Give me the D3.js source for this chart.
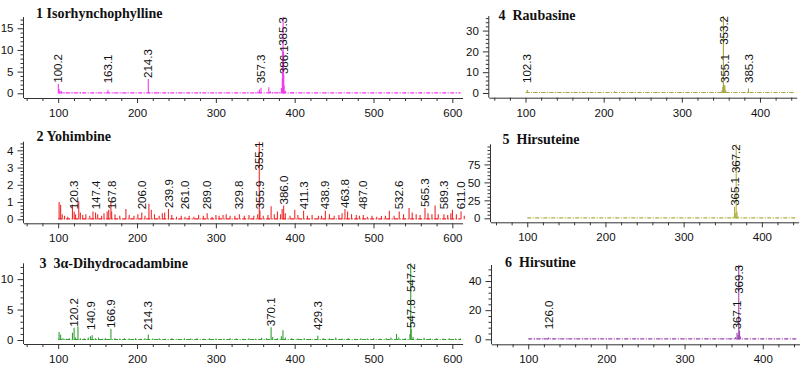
<!DOCTYPE html>
<html><head><meta charset="utf-8">
<script src="https://cdn.jsdelivr.net/npm/d3@7"></script>
<style>body{margin:0;background:#fff}svg{display:block}</style>
</head><body><svg id="c" width="800" height="369"></svg>
<script>
// ---------- DATA ----------
const titles = ["1 Isorhynchophylline", "2 Yohimbine", "3  3\u03b1-Dihydrocadambine", "4  Raubasine", "5  Hirsuteine", "6  Hirsutine"];
const colors = ["#f03cf0", "#ee2a2a", "#33a033", "#a6a43c", "#b2b043", "#a045b5"];

const leftXTicks = [100, 200, 300, 400, 500, 600];
const rightXTicks = [100, 200, 300, 400];

// Panel 1: Isorhynchophylline
const p1Mz = [100.2,101.1,102.2,104.1,106.1,110.1,117.1,120.1,128.1,132.1,144.1,150.1,160.1,163.1,170.1,180.1,187.1,196.1,205.1,214.3,216.2,222.1,227.2,235.1,240.1,250.1,258.2,270.1,280.2,290.2,300.2,312.2,325.2,340.2,350.2,353.2,355.2,357.3,367.2,369.2,372.2,380.2,383.2,384.3,384.8,385.3,385.8,386.1,386.6,388.2,395.2,398.2,410.2,425.2,440.2,455.2,470.3,485.3,500.3,520.3,540.3,560.3,575.3,590.3,605.3];
const p1Int = [2.2,1.0,0.6,0.5,0.3,0.3,0.2,0.2,0.3,0.2,0.2,0.2,0.2,0.7,0.2,0.15,0.2,0.2,0.15,3.3,0.3,0.2,0.3,0.15,0.2,0.15,0.2,0.15,0.3,0.15,0.2,0.15,0.2,0.2,0.2,0.4,0.9,1.3,1.4,0.5,0.3,0.3,1.2,3.5,9.8,17.6,9.5,4.2,1.8,0.6,0.3,0.3,0.2,0.15,0.2,0.15,0.2,0.15,0.2,0.15,0.2,0.3,0.15,0.2,0.15];
const p1Labels = ["100.2","163.1","214.3","357.3","385.3","386.1"];
const p1YTicks = [0, 5, 10, 15];

// Panel 2: Yohimbine
const p2Mz = [101.2,103.1,105.1,108.1,112.1,118.1,120.3,122.1,126.1,128.1,131.1,135.1,140.1,144.1,147.4,150.1,155.1,158.1,162.1,164.1,166.9,167.8,172.1,178.1,185.9,190.1,196.1,201.1,206.0,210.1,215.1,218.1,222.1,228.1,232.1,235.1,239.9,244.1,250.1,256.1,261.0,266.1,272.1,278.1,284.1,289.0,295.1,300.1,304.1,309.1,313.1,318.1,324.1,329.8,336.1,342.1,348.1,353.1,355.1,355.9,360.1,366.1,370.1,374.1,378.1,382.1,384.1,386.0,388.1,394.1,400.1,404.1,411.3,416.1,422.1,430.1,434.1,438.9,444.1,450.1,456.1,460.1,463.8,467.1,472.1,478.1,482.1,487.0,492.1,498.1,504.1,510.1,515.1,520.1,526.1,532.6,538.1,545.1,549.1,554.1,559.1,565.3,569.1,574.1,578.1,582.1,589.3,594.1,598.1,600.1,605.1,611.0,615.1];
const p2Int = [1.0,0.85,0.3,0.2,0.15,0.85,0.45,0.3,1.05,0.4,0.25,0.3,0.2,0.45,0.4,0.3,0.2,0.35,0.45,0.55,1.0,0.45,0.3,0.2,0.6,0.25,0.2,0.3,0.4,0.2,0.9,0.55,0.3,0.2,0.35,0.4,0.6,0.25,0.15,0.2,0.15,0.2,0.15,0.25,0.2,0.35,0.15,0.25,0.2,0.25,0.3,0.2,0.2,0.3,0.2,0.25,0.2,0.3,4.5,0.5,0.2,0.25,0.75,0.3,0.45,0.3,0.6,0.8,0.35,0.2,0.55,0.25,0.5,0.2,0.25,0.2,0.2,0.5,0.3,0.2,0.25,0.35,0.6,0.45,0.3,0.25,0.2,0.25,0.15,0.2,0.15,0.2,0.2,0.5,0.2,0.45,0.3,0.65,0.4,0.3,0.25,0.65,0.35,0.3,0.8,0.3,0.3,0.25,0.35,0.55,0.3,0.45,0.2];
const p2Labels = ["120.3","147.4","167.8","206.0","239.9","261.0","289.0","329.8","355.1","355.9","386.0","411.3","438.9","463.8","487.0","532.6","565.3","589.3","611.0"];
const p2YTicks = [0, 1, 2, 3, 4];

// Panel 3: 3a-Dihydrocadambine
const p3Mz = [101.1,103.1,106.1,110.1,114.1,118.1,120.2,122.1,125.1,128.1,133.1,138.1,140.9,143.1,147.1,151.1,156.1,160.1,166.9,172.1,178.1,184.1,190.1,198.1,205.1,210.1,214.3,220.1,228.1,236.1,244.1,252.1,260.1,268.1,276.1,284.1,292.1,300.1,310.1,318.1,326.1,334.1,342.1,350.1,358.1,364.1,370.1,372.1,378.1,383.1,385.1,388.1,396.1,404.1,412.1,420.1,429.3,436.1,444.1,452.1,460.1,468.1,476.1,484.1,492.1,500.1,508.1,516.1,522.1,529.2,532.1,540.1,546.2,547.2,547.8,550.1,556.1,564.1,572.1,580.1,588.1,596.1,604.1,610.1];
const p3Int = [1.3,0.9,0.3,0.2,0.3,1.2,2.0,0.4,2.2,0.3,0.3,0.4,0.6,0.8,0.3,0.4,0.2,0.3,1.8,0.3,0.2,0.3,0.25,0.3,0.2,0.3,0.9,0.25,0.3,0.2,0.3,0.2,0.3,0.25,0.3,0.2,0.3,0.25,0.2,0.3,0.25,0.2,0.3,0.2,0.35,0.3,2.1,0.5,0.3,0.6,1.6,0.4,0.3,0.25,0.3,0.2,0.7,0.3,0.25,0.4,0.25,0.3,0.2,0.3,0.25,0.3,0.2,0.3,0.4,1.0,0.4,0.3,1.0,12.6,1.8,0.5,0.3,0.35,0.25,0.3,0.25,0.3,0.25,0.3];
const p3Labels = ["120.2","140.9","166.9","214.3","370.1","429.3","547.2","547.8"];
const p3YTicks = [0, 5, 10];

// Panel 4: Raubasine
const p4Mz = [102.3,104.1,110.1,120.1,130.1,140.1,150.1,160.1,170.1,180.1,190.1,200.1,214.1,225.1,240.1,255.1,270.1,285.1,300.1,315.1,330.1,340.1,351.2,352.5,353.2,354.2,355.1,356.2,360.1,370.1,385.3,388.1,400.1,415.1,430.1,440.1];
const p4Int = [1.5,0.5,0.3,0.3,0.3,0.25,0.3,0.25,0.3,0.3,0.25,0.3,0.8,0.3,0.3,0.25,0.3,0.25,0.3,0.25,0.3,0.3,1.2,3.0,37,4.0,3.5,1.2,0.3,0.3,2.2,0.3,0.3,0.25,0.3,0.25];
const p4Labels = ["102.3","353.2","355.1","385.3"];
const p4YTicks = [0, 10, 20, 30];

// Panel 5: Hirsuteine
const p5Mz = [102.1,110.1,120.1,130.1,140.1,150.1,160.1,170.1,180.1,190.1,200.1,214.1,225.1,240.1,255.1,270.1,285.1,300.1,315.1,330.1,345.1,355.1,363.2,365.1,366.1,367.2,368.2,369.2,375.1,385.1,400.1,415.1,430.1,440.1];
const p5Int = [0.6,0.4,0.5,0.4,0.5,0.4,0.5,0.4,0.5,0.4,0.5,0.6,0.4,0.5,0.4,0.5,0.4,0.5,0.4,0.5,0.4,0.6,2,16,7,103,9,3,0.5,0.6,0.5,0.4,0.5,0.4];
const p5Labels = ["365.1","367.2"];
const p5YTicks = [0, 25, 50, 75];

// Panel 6: Hirsutine
const p6Mz = [102.1,108.1,115.1,120.1,126.0,132.1,140.1,150.1,160.1,170.1,180.1,190.1,200.1,214.1,225.1,240.1,255.1,270.1,285.1,300.1,315.1,330.1,345.1,355.1,365.1,367.1,368.3,369.3,370.3,371.3,380.1,390.1,400.1,415.1,430.1,440.1];
const p6Int = [0.6,0.5,0.6,0.7,1.2,0.5,0.6,0.5,0.6,0.5,0.6,0.5,0.6,0.7,0.5,0.6,0.5,0.6,0.5,0.6,0.5,0.6,0.5,0.6,1.5,4.5,3,51,6,2,0.6,0.5,0.6,0.5,0.6,0.5];
const p6Labels = ["126.0","367.1","369.3"];
const p6YTicks = [0, 20, 40];

// ---------- LAYOUT (pixels) ----------
const layouts = [
  {xMin:56, xMax:613, px0:23.5, px1:462.6, yTop:17,    yZero:93.3,  axisY:98,    tx:36,    ty:18},
  {xMin:56, xMax:613, px0:23.5, px1:462.6, yTop:141.7, yZero:219.3, axisY:223.3, tx:36.5,  ty:140.7},
  {xMin:56, xMax:613, px0:23.5, px1:462.6, yTop:263.3, yZero:340,   axisY:344,   tx:39.5,  ty:268},
  {xMin:53, xMax:447, px0:488.8, px1:796.7, yTop:16,   yZero:93,    axisY:97.7,  tx:498.5, ty:19.7},
  {xMin:53, xMax:447, px0:490.5, px1:798.6, yTop:144.3, yZero:218.3, axisY:222.3, tx:502.5, ty:143.7},
  {xMin:53, xMax:447, px0:491.5, px1:799.5, yTop:265,  yZero:339.3, axisY:344.3, tx:505,   ty:267.4}
];

const panels = [
  {mz:p1Mz, it:p1Int, labels:p1Labels, yTicks:p1YTicks, xTicks:leftXTicks},
  {mz:p2Mz, it:p2Int, labels:p2Labels, yTicks:p2YTicks, xTicks:leftXTicks},
  {mz:p3Mz, it:p3Int, labels:p3Labels, yTicks:p3YTicks, xTicks:leftXTicks},
  {mz:p4Mz, it:p4Int, labels:p4Labels, yTicks:p4YTicks, xTicks:rightXTicks},
  {mz:p5Mz, it:p5Int, labels:p5Labels, yTicks:p5YTicks, xTicks:rightXTicks},
  {mz:p6Mz, it:p6Int, labels:p6Labels, yTicks:p6YTicks, xTicks:rightXTicks}
];

const svg = d3.select("#c");
const NUM_FONT = "'Liberation Sans', Arial, sans-serif";
const AXIS_COL = "#333";

panels.forEach((p, i) => {
  const L = layouts[i];
  const color = colors[i];
  const n = Math.min(p.mz.length, p.it.length);
  const pts = d3.range(n).map(k => ({mz: p.mz[k], v: p.it[k]}));
  const yMax = d3.max(pts, d => d.v);
  const x = d3.scaleLinear().domain([L.xMin, L.xMax]).range([L.px0, L.px1]);
  const y = d3.scaleLinear().domain([0, yMax]).range([L.yZero, L.yTop]);
  const g = svg.append("g");

  // baseline (dashed, series colour)
  g.append("line")
    .attr("x1", x(100)).attr("x2", x(L.xMax) - 2)
    .attr("y1", y(0) - 0.5).attr("y2", y(0) - 0.5)
    .attr("stroke", color).attr("stroke-width", 1.2)
    .attr("stroke-dasharray", "4,1.5,1,1.5");

  // peaks
  g.selectAll("line.pk").data(pts).join("line").attr("class", "pk")
    .attr("x1", d => x(d.mz)).attr("x2", d => x(d.mz))
    .attr("y1", y(0)).attr("y2", d => y(d.v))
    .attr("stroke", color).attr("stroke-width", 1.1);

  // x axis
  const xMinor = d3.range(60, L.xMax, 20).filter(v => !p.xTicks.includes(v));
  const gxm = g.append("g").attr("transform", `translate(0,${L.axisY})`)
    .call(d3.axisBottom(x).tickValues(xMinor).tickSize(3).tickFormat("").tickSizeOuter(0));
  const gx = g.append("g").attr("transform", `translate(0,${L.axisY})`)
    .call(d3.axisBottom(x).tickValues(p.xTicks).tickSize(5).tickPadding(6).tickSizeOuter(0));
  gxm.select(".domain").remove();
  [gx, gxm].forEach(a => {
    a.selectAll("path,line").attr("stroke", AXIS_COL);
  });
  gx.selectAll("text").attr("font-family", NUM_FONT).attr("font-size", 11.5).attr("fill", "#111");

  // y axis
  const step = (p.yTicks[1] - p.yTicks[0]) / 5;
  const yMinor = d3.range(0, yMax + 1e-9, step).filter(v => !p.yTicks.some(t => Math.abs(t - v) < 1e-6));
  const gym = g.append("g").attr("transform", `translate(${L.px0},0)`)
    .call(d3.axisLeft(y).tickValues(yMinor).tickSize(3).tickFormat(""));
  const gy = g.append("g").attr("transform", `translate(${L.px0},0)`)
    .call(d3.axisLeft(y).tickValues(p.yTicks).tickSize(6).tickPadding(4).tickFormat(d3.format("d")));
  gym.select(".domain").remove();
  gy.select(".domain").remove();
  [gy, gym].forEach(a => a.selectAll("line").attr("stroke", AXIS_COL));
  gy.selectAll("text").attr("font-family", NUM_FONT).attr("font-size", 11.5).attr("fill", "#111");
  g.append("line").attr("x1", L.px0).attr("x2", L.px0)
    .attr("y1", L.yTop).attr("y2", L.axisY).attr("stroke", AXIS_COL);

  // peak labels
  const items = p.labels.map(t => {
    const m = +t;
    let best = pts[0];
    pts.forEach(d => { if (Math.abs(d.mz - m) < Math.abs(best.mz - m)) best = d; });
    return {text: t, mz: m, v: best.v, px: x(m)};
  }).sort((a, b) => a.px - b.px);
  const groups = [];
  items.forEach(it => {
    const last = groups[groups.length - 1];
    if (last && it.px - last[last.length - 1].px < 8) last.push(it); else groups.push([it]);
  });
  const minLift = 10;
  groups.forEach(gr => {
    gr.sort((a, b) => a.v - b.v);
    gr.forEach((it, k) => {
      if (gr.length > 1 && k === gr.length - 1) { it.y = y(it.v); it.anchor = "end"; }
      else { it.y = Math.min(y(it.v) - 1, L.yZero - minLift); it.anchor = "start"; }
    });
  });
  g.selectAll("text.pl").data(items).join("text").attr("class", "pl")
    .attr("transform", d => `translate(${d.px},${d.y}) rotate(-90)`)
    .attr("text-anchor", d => d.anchor)
    .attr("dy", "0.36em")
    .attr("font-family", NUM_FONT).attr("font-size", 11.5).attr("fill", "#111")
    .text(d => d.text);

  // title
  g.append("text").attr("x", L.tx).attr("y", L.ty)
    .attr("font-family", "'Liberation Serif', 'Times New Roman', serif")
    .attr("font-weight", "bold").attr("font-size", 14).attr("fill", "#111")
    .style("white-space", "pre").attr("xml:space", "preserve")
    .text(titles[i]);
});
</script></body></html>
